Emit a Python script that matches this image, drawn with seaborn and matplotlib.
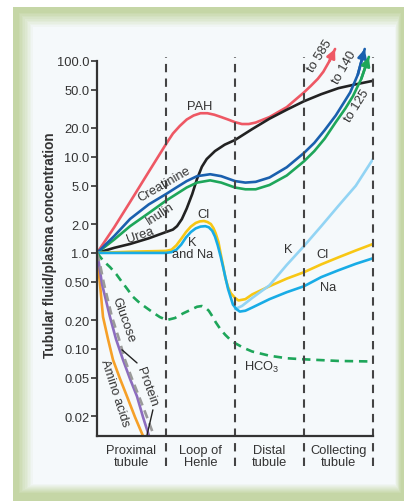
import numpy as np
import pandas as pd
import seaborn as sns
import matplotlib.pyplot as plt
from matplotlib.patches import Rectangle
from matplotlib.colors import to_rgb

# Data (x: 0-1 proximal, 1-2 loop, 2-3 distal, 3-4 collecting)
pah_x = [0, 0.25, 0.48, 0.75, 1.0, 1.1, 1.2, 1.3, 1.4, 1.5, 1.6, 1.7, 1.8, 1.9, 2.0, 2.1, 2.2, 2.3,
         2.5, 2.75, 3.0, 3.1, 3.2, 3.28, 3.37, 3.45]
pah_y = [1.0, 1.85, 3.4, 7.0, 13.6, 17.5, 21, 24.5, 27, 28.5, 28.5, 27.5, 26, 24.5, 23, 22, 22, 22.8,
         26, 33, 47, 55, 65, 77, 100, 133]

creat_x = [0, 0.25, 0.48, 0.75, 1.0, 1.15, 1.3, 1.45, 1.64, 1.8, 2.0, 2.15, 2.3, 2.5, 2.75, 3.0,
           3.15, 3.3, 3.46, 3.58, 3.67, 3.78, 3.88]
creat_y = [1.0, 1.5, 2.26, 3.2, 4.1, 4.8, 5.6, 6.3, 6.6, 6.3, 5.6, 5.4, 5.5, 6.1, 7.8, 11.0,
           14, 19, 27, 37, 47, 72, 133]

inulin_x = [0, 0.25, 0.48, 0.75, 1.0, 1.15, 1.3, 1.45, 1.64, 1.8, 2.0, 2.15, 2.3, 2.5, 2.75, 3.0,
            3.15, 3.3, 3.46, 3.6, 3.71, 3.83, 3.94]
inulin_y = [1.0, 1.38, 1.9, 2.6, 3.5, 4.1, 4.8, 5.4, 5.7, 5.4, 4.8, 4.6, 4.6, 5.1, 6.4, 9.0,
            11.5, 15.5, 23, 32, 43, 65, 110]

urea_x = [0, 0.25, 0.48, 0.75, 1.0, 1.1, 1.16, 1.23, 1.3, 1.38, 1.45, 1.52, 1.59, 1.71, 1.85, 2.0,
          2.25, 2.5, 2.75, 3.0, 3.25, 3.5, 3.75, 4.0]
urea_y = [1.0, 1.13, 1.24, 1.42, 1.65, 1.75, 1.9, 2.25, 2.9, 4.1, 5.9, 7.9, 9.5, 11.5, 13.4, 15,
          19.5, 25, 31, 38, 45, 52, 57, 62]

na_x = [0, 0.5, 1.0, 1.08, 1.15, 1.22, 1.29, 1.36, 1.43, 1.5, 1.57, 1.62, 1.67, 1.71, 1.75, 1.79,
        1.83, 1.87, 1.9, 1.94, 1.97, 2.02, 2.07, 2.15, 2.25, 2.5, 2.75, 3.0, 3.25, 3.5, 3.75, 4.0]
na_y = [1.0, 1.0, 1.0, 1.02, 1.08, 1.22, 1.45, 1.65, 1.8, 1.88, 1.9, 1.85, 1.7, 1.48, 1.2, 0.93,
        0.7, 0.52, 0.42, 0.34, 0.29, 0.26, 0.245, 0.25, 0.27, 0.33, 0.39, 0.45, 0.56, 0.66, 0.77, 0.88]

cl_x = [0, 0.5, 1.0, 1.08, 1.15, 1.22, 1.29, 1.36, 1.43, 1.49, 1.55, 1.6, 1.65, 1.69, 1.72, 1.76,
        1.79, 1.83, 1.86, 1.9, 1.94, 2.0, 2.05, 2.15, 2.25, 2.5, 2.75, 3.0, 3.25, 3.5, 3.75, 4.0]
cl_y = [1.0, 1.03, 1.05, 1.08, 1.2, 1.4, 1.65, 1.88, 2.05, 2.13, 2.15, 2.1, 2.0, 1.8, 1.6, 1.3,
        1.0, 0.72, 0.55, 0.44, 0.38, 0.34, 0.32, 0.33, 0.37, 0.45, 0.54, 0.63, 0.76, 0.9, 1.06, 1.24]

k_x = [2.0, 2.1, 2.25, 2.5, 2.75, 3.0, 3.25, 3.5, 3.75, 4.0]
k_y = [0.26, 0.28, 0.34, 0.46, 0.75, 1.18, 1.9, 3.1, 5.0, 9.5]

hco3_x = [0, 0.09, 0.19, 0.28, 0.36, 0.44, 0.52, 0.6, 0.68, 0.81, 0.91, 1.01, 1.13, 1.25, 1.38,
          1.45, 1.52, 1.57, 1.62, 1.67, 1.72, 1.79, 1.86, 1.93, 2.0, 2.12, 2.25, 2.5, 2.75, 3.0, 3.5, 4.0]
hco3_y = [1.0, 0.83, 0.71, 0.6, 0.5, 0.42, 0.35, 0.31, 0.28, 0.24, 0.215, 0.2, 0.21, 0.235, 0.26,
          0.275, 0.28, 0.27, 0.25, 0.22, 0.19, 0.16, 0.14, 0.125, 0.115, 0.103, 0.094, 0.085, 0.08,
          0.078, 0.075, 0.074]

amino_x = [0, 0.014, 0.043, 0.087, 0.159, 0.232, 0.333, 0.435, 0.551, 0.667]
amino_y = [1.0, 0.768, 0.476, 0.216, 0.127, 0.077, 0.049, 0.032, 0.0195, 0.0124]

glucose_x = [0, 0.029, 0.072, 0.188, 0.275, 0.377, 0.478, 0.580, 0.667, 0.754]
glucose_y = [1.0, 0.768, 0.476, 0.216, 0.127, 0.077, 0.049, 0.032, 0.0195, 0.0124]

protein_x = [0, 0.043, 0.101, 0.217, 0.319, 0.406, 0.507, 0.609, 0.725, 0.826]
protein_y = [1.0, 0.768, 0.476, 0.216, 0.127, 0.077, 0.049, 0.032, 0.0195, 0.0124]

ytick_vals = [100, 50, 20, 10, 5, 2, 1, 0.5, 0.2, 0.1, 0.05, 0.02]
ytick_labels = ["100.0", "50.0", "20.0", "10.0", "5.0", "2.0", "1.0", "0.50", "0.20", "0.10", "0.05", "0.02"]
segments = ["Proximal\ntubule", "Loop of\nHenle", "Distal\ntubule", "Collecting\ntubule"]

sns.set_style("white")
plt.rcParams["font.family"] = ["Liberation Sans", "DejaVu Sans"]

fig = plt.figure(figsize=(4.06, 5.02), dpi=100)
fig.patch.set_facecolor("white")

# green frame with soft inner panel
W, H = 406, 502
green = np.array(to_rgb("#c5d6a6"))
panel = np.array(to_rgb("#f5f9fb"))
fig.patches.append(Rectangle((13 / W, 0), 391 / W, 494 / H, transform=fig.transFigure,
                             facecolor=green, edgecolor="none", zorder=-30))
n = 10
for i in range(n):
    t = (i + 1) / n
    pad = (n - 1 - i) * 1.6
    x0, y0, x1, y1 = 33 - pad, 28 - pad, 395 + pad * 0.4, 485 + pad * 0.6
    c = green * (1 - t) + panel * t
    fig.patches.append(Rectangle((x0 / W, 1 - y1 / H), (x1 - x0) / W, (y1 - y0) / H,
                                 transform=fig.transFigure, facecolor=c,
                                 edgecolor="none", zorder=-25 + i))

ax = fig.add_axes([97 / W, 65 / H, 276 / W, 397 / H])
ax.set_zorder(5)
ax.patch.set_alpha(0)
ax.set_yscale("log")
ax.set_xlim(0, 4)
ax.set_ylim(0.0124, 169)

lw = 1.9
curves = [
    (pah_x, pah_y, "#ee5864"),
    (urea_x, urea_y, "#222222"),
    (inulin_x, inulin_y, "#1ea65a"),
    (creat_x, creat_y, "#1a60ae"),
    (cl_x, cl_y, "#f8c714"),
    (k_x, k_y, "#92d4f4"),
    (na_x, na_y, "#18ace6"),
    (amino_x, amino_y, "#f6a027"),
    (glucose_x, glucose_y, "#8c6cbf"),
]
for xs, ys, col in curves:
    sns.lineplot(x=xs, y=ys, ax=ax, color=col, lw=lw, sort=False, estimator=None,
                 solid_joinstyle="round")

sns.lineplot(x=hco3_x, y=hco3_y, ax=ax, color="#1ea65a", lw=lw, sort=False,
             estimator=None, linestyle=(0, (3.2, 2.2)))
sns.lineplot(x=protein_x, y=protein_y, ax=ax, color="#9a9a9a", lw=lw, sort=False,
             estimator=None, linestyle=(0, (3.2, 2.0)))

# arrow heads on the off-scale curves
for xs, ys, col in [(pah_x, pah_y, "#ee5864"), (creat_x, creat_y, "#1a60ae"),
                    (inulin_x, inulin_y, "#1ea65a")]:
    ax.annotate("", xy=(xs[-1], ys[-1]), xytext=(xs[-2], ys[-2]),
                arrowprops=dict(arrowstyle="-|>", color=col, lw=lw, mutation_scale=13,
                                shrinkA=0, shrinkB=0), annotation_clip=False)

# segment dividers
for xv in [1, 2, 3, 4]:
    ax.axvline(xv, ymin=-0.075, ymax=0.955, color="#444444", lw=1.5,
               linestyle=(0, (4, 3)), clip_on=False)

ax.set_yticks(ytick_vals)
ax.set_yticklabels(ytick_labels)
ax.minorticks_off()
ax.set_xticks([])
ax.tick_params(axis="y", length=4, width=1.2, color="#333333", labelsize=9.3,
               labelcolor="#333333", pad=1.5, direction="out", left=True)
for s in ["top", "right"]:
    ax.spines[s].set_visible(False)
ax.spines["left"].set_bounds(0.0124, 100)
ax.spines["left"].set_color("#333333")
ax.spines["bottom"].set_color("#333333")
ax.spines["left"].set_linewidth(1.6)
ax.spines["bottom"].set_linewidth(1.6)

for i, lab in enumerate(segments):
    ax.text(i + 0.5, -0.05, lab, transform=ax.get_xaxis_transform(), ha="center",
            va="center", fontsize=9.3, color="#333333", linespacing=1.05)

fig.text(50 / W, 1 - 245 / H, "Tubular fluid/plasma concentration", rotation=90,
         ha="center", va="center", fontsize=9.8, fontweight="bold", color="#333333",
         zorder=10)

tk = dict(fontsize=9.3, color="#333333", ha="center", va="center")
ax.text(1.49, 34, "PAH", **tk)
ax.text(0.97, 5.3, "Creatinine", rotation=30, **tk)
ax.text(0.91, 2.6, "Inulin", rotation=33, **tk)
ax.text(0.62, 1.54, "Urea", rotation=19, **tk)
ax.text(1.54, 2.55, "Cl", **tk)
ax.text(1.38, 1.13, "K\nand Na", linespacing=1.0, **tk)
ax.text(2.77, 1.1, "K", **tk)
ax.text(3.26, 0.98, "Cl", **tk)
ax.text(3.35, 0.44, "Na", **tk)
ax.text(2.39, 0.065, r"HCO$_\mathregular{3}$", **tk)
ax.text(0.377, 0.205, "Glucose", rotation=-70, **tk)
ax.text(0.26, 0.0356, "Amino acids", rotation=-72, **tk)
ax.text(0.725, 0.041, "Protein", rotation=-70, **tk)
ax.text(3.23, 115, "to 585", rotation=58, **tk)
ax.text(3.59, 86.6, "to 140", rotation=60, **tk)
ax.text(3.77, 34.8, "to 125", rotation=58, **tk)

# leader lines for the protein label
for a, b in [((0.362, 0.098), (0.58, 0.0715)), ((0.81, 0.0232), (0.725, 0.0127))]:
    ax.annotate("", xy=b, xytext=a, arrowprops=dict(arrowstyle="-", color="#222222",
                lw=1.0, shrinkA=0, shrinkB=0), annotation_clip=False)

fig.savefig("out.png", dpi=100)
